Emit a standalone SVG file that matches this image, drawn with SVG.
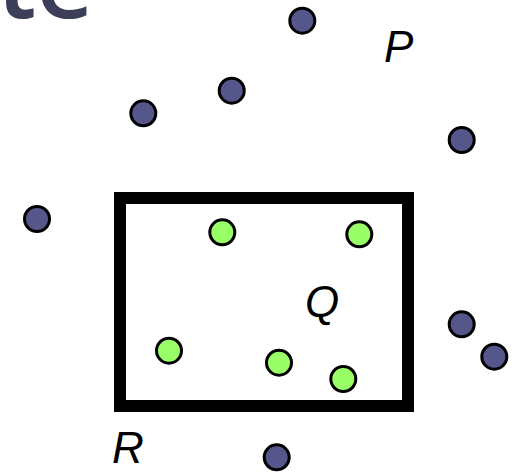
<svg xmlns="http://www.w3.org/2000/svg" width="517" height="472" viewBox="0 0 517 472">
<style>
.b{fill:#55568a;stroke:#000;stroke-width:3}
.g{fill:#99ff66;stroke:#000;stroke-width:3}
.l{font-family:"Liberation Sans",Arial,sans-serif;font-style:italic;font-size:44px;fill:#000}
.t{font-family:"Open Sans",sans-serif;font-size:100px;font-weight:600;fill:#3d3e58}
</style>
<rect width="517" height="472" fill="#fff"/>
<text class="t" x="94" y="18" text-anchor="end">ite</text>
<g id="region"><rect x="120" y="198" width="288" height="208" fill="none" stroke="#000" stroke-width="12"/></g>
<g id="labels">
<text class="l" x="384" y="62">P</text>
<text class="l" x="305" y="317">Q</text>
<text class="l" x="112" y="463">R</text>
</g>
<g id="connectors"></g>
<g id="points-outside">
<circle id="p1" class="b" cx="302.3" cy="20.7" r="12.5"/>
<circle id="p2" class="b" cx="461.7" cy="140" r="12.5"/>
<circle id="p3" class="b" cx="143.3" cy="113.3" r="12.5"/>
<circle id="p4" class="b" cx="231.7" cy="90.7" r="12.5"/>
<circle id="p5" class="b" cx="37" cy="219" r="12.5"/>
<circle id="p6" class="b" cx="461.7" cy="324.3" r="12.5"/>
<circle id="p7" class="b" cx="494.3" cy="356.7" r="12.5"/>
<circle id="p8" class="b" cx="276.7" cy="457.3" r="12.5"/>
</g>
<g id="points-inside">
<circle id="q1" class="g" cx="222.3" cy="232.3" r="12.5"/>
<circle id="q2" class="g" cx="359.3" cy="234.3" r="12.5"/>
<circle id="q3" class="g" cx="169" cy="350.7" r="12.5"/>
<circle id="q4" class="g" cx="279" cy="362.7" r="12.5"/>
<circle id="q5" class="g" cx="343.3" cy="379" r="12.5"/>
</g>
</svg>
